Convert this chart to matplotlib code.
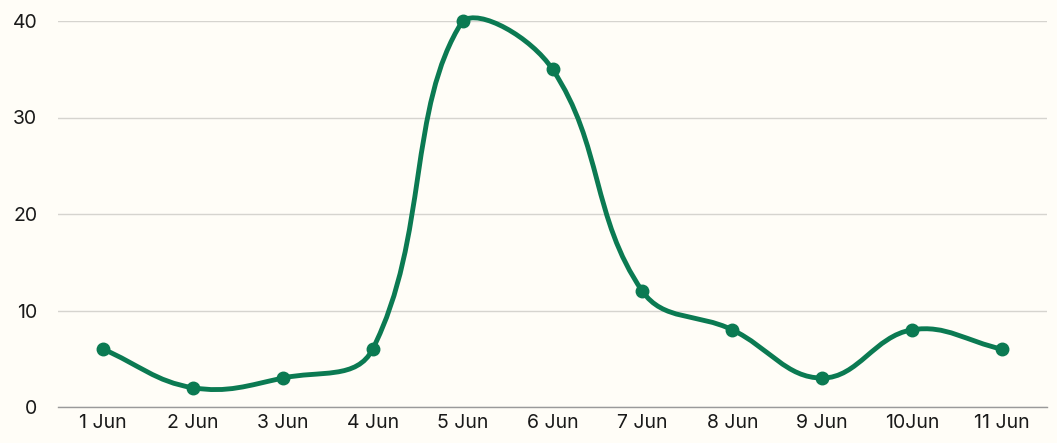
import numpy as np
import matplotlib
matplotlib.use("Agg")
import matplotlib.pyplot as plt
from matplotlib.path import Path
from matplotlib.patches import PathPatch

# Data
days = ["1 Jun", "2 Jun", "3 Jun", "4 Jun", "5 Jun", "6 Jun",
        "7 Jun", "8 Jun", "9 Jun", "10Jun", "11 Jun"]
values = [6, 2, 3, 6, 40, 35, 12, 8, 3, 8, 6]

bg = "#fffdf7"
green = "#0b7a52"

plt.rcParams["font.family"] = ["Inter", "DejaVu Sans"]

fig = plt.figure(figsize=(10.57, 4.43), dpi=100, facecolor=bg)
ax = fig.add_axes([58 / 1057, 36 / 443, 989 / 1057, 386 / 443])
ax.set_facecolor(bg)

x = np.arange(len(values))
ax.set_xlim(-0.5, len(values) - 0.5)
ax.set_ylim(0, 40)


# Smooth spline through the points (tension 0.4), control points in pixel space,
# capped a little outside the plot area
def spline_path(xs, ys, tension=0.4, margin=13):
    pts = ax.transData.transform(np.column_stack([xs, ys]))
    (x0, y0), (x1, y1) = ax.transData.transform([[ax.get_xlim()[0], 0], [ax.get_xlim()[1], 40]])
    lo = [x0 - margin, y0 - margin]
    hi = [x1 + margin, y1 + margin]
    n = len(pts)
    cps = []
    for i in range(n):
        prev = pts[max(i - 1, 0)]
        cur = pts[i]
        nxt = pts[min(i + 1, n - 1)]
        d01 = np.hypot(*(cur - prev))
        d12 = np.hypot(*(nxt - cur))
        tot = d01 + d12
        s01 = d01 / tot if tot else 0
        s12 = d12 / tot if tot else 0
        c1 = np.clip(cur - tension * s01 * (nxt - prev), lo, hi)
        c2 = np.clip(cur + tension * s12 * (nxt - prev), lo, hi)
        cps.append((c1, c2))
    verts = [pts[0]]
    codes = [Path.MOVETO]
    for i in range(n - 1):
        verts += [cps[i][1], cps[i + 1][0], pts[i + 1]]
        codes += [Path.CURVE4] * 3
    verts = ax.transData.inverted().transform(np.array(verts))
    return Path(verts, codes)


ax.add_patch(PathPatch(spline_path(x, values), fill=False, edgecolor=green,
                       linewidth=3.5, capstyle="round", joinstyle="round",
                       zorder=3, clip_on=False))
ax.plot(x, values, linestyle="none", marker="o", markersize=9,
        color=green, zorder=4, clip_on=False)

# Axes styling
ax.set_yticks([0, 10, 20, 30, 40])
ax.set_xticks(x)
ax.set_xticklabels(days)
ax.grid(axis="y", color="#d6d4cf", linewidth=1)
ax.set_axisbelow(True)
for side in ["top", "right", "left"]:
    ax.spines[side].set_visible(False)
ax.spines["bottom"].set_color("#9a9a9a")
ax.spines["bottom"].set_linewidth(1)
ax.tick_params(axis="both", length=0, labelsize=14, colors="#1a1a1a")
ax.tick_params(axis="y", pad=15)
ax.tick_params(axis="x", pad=5)

plt.savefig("out.png", dpi=100, facecolor=bg)
